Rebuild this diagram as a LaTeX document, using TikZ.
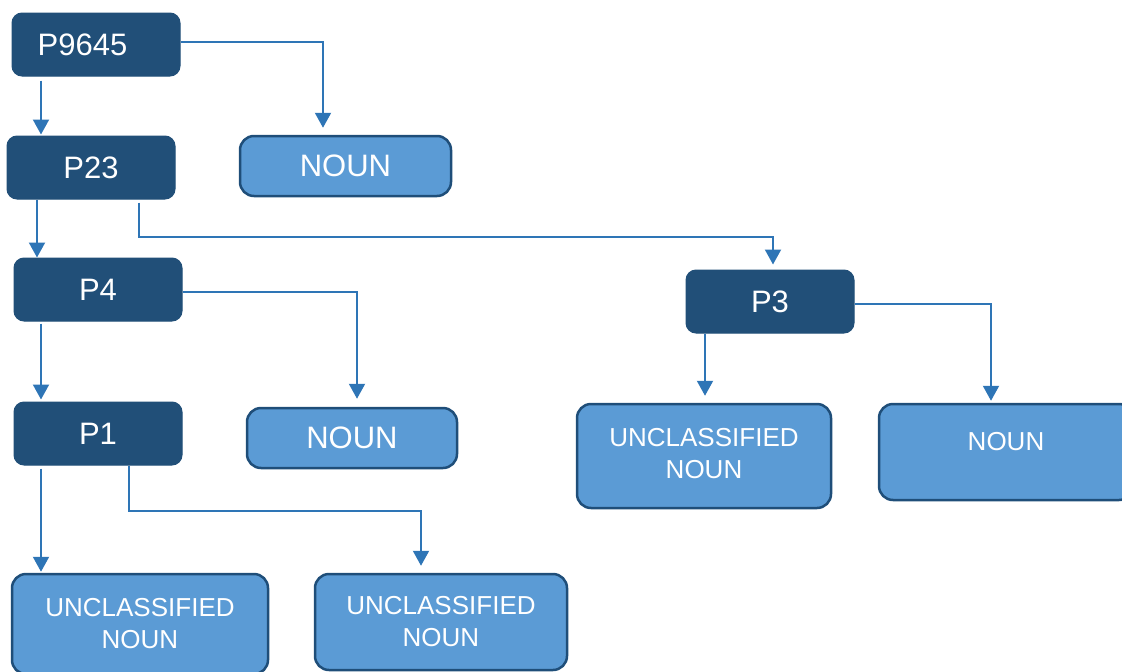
\documentclass[tikz,border=0pt]{standalone}
\usepackage{fontspec}
\setmainfont{Liberation Sans}
\usetikzlibrary{arrows.meta}
\definecolor{darkbox}{HTML}{214F78}
\definecolor{lightbox}{HTML}{5B9BD5}
\definecolor{boxline}{HTML}{1F4E79}
\definecolor{conncol}{HTML}{2E75B6}
\tikzset{
  darknode/.style={draw=darkbox, fill=darkbox, rounded corners=10pt, line width=1pt,
    minimum width=168pt, minimum height=63pt, inner sep=0pt, text=white,
    font=\fontsize{31}{36}\selectfont},
  lightnode/.style={draw=boxline, fill=lightbox, rounded corners=14pt, line width=2.5pt,
    inner sep=0pt, text=white, align=center},
  bigtext/.style={font=\fontsize{31}{36}\selectfont},
  smalltext/.style={font=\fontsize{26}{32}\selectfont},
  conn/.style={draw=conncol, line width=2pt, -{Triangle[width=16pt,length=15pt]}},
}
\begin{document}
\begin{tikzpicture}[x=1pt,y=1pt]
\useasboundingbox (0,0) rectangle (1122,-672);
\begin{scope}
\clip (0,0) rectangle (1122,-672);
% dark nodes
\node[darknode] (p9645) at (96,-44.5) {\hspace*{-27pt}P9645};
\node[darknode] (p23) at (91,-167.5) {P23};
\node[darknode] (p4) at (98,-289.5) {P4};
\node[darknode] (p1) at (98,-433.5) {P1};
\node[darknode] (p3) at (770,-301.5) {P3};
% light nodes
\node[lightnode, bigtext, minimum width=211pt, minimum height=60pt] (noun1) at (345.5,-166) {NOUN};
\node[lightnode, bigtext, minimum width=210pt, minimum height=60pt] (noun2) at (352,-438) {NOUN};
\node[lightnode, smalltext, minimum width=254pt, minimum height=104pt, text depth=6pt] (unc1) at (704,-456) {UNCLASSIFIED\\NOUN};
\node[lightnode, smalltext, minimum width=254pt, minimum height=96pt, text depth=22pt] (noun3) at (1006,-452) {NOUN};
\node[lightnode, smalltext, minimum width=256pt, minimum height=100pt] (unc2) at (140,-624) {UNCLASSIFIED\\NOUN};
\node[lightnode, smalltext, minimum width=252pt, minimum height=96pt] (unc3) at (441,-622) {UNCLASSIFIED\\NOUN};
% connectors
\draw[conn, shorten >=7pt] ([yshift=2.5pt]p9645.east) -| ([xshift=-22.5pt]noun1.north);
\draw[conn, shorten <=4pt, shorten >=1pt] ([xshift=-55pt]p9645.south) -- ([xshift=-50pt]p23.north);
\draw[conn, shorten >=0pt] ([xshift=-54pt]p23.south) -- ([xshift=-61pt]p4.north);
\draw[conn, shorten >=5pt] ([xshift=48pt,yshift=-3pt]p23.south) -- ++(0,-34) -| ([xshift=3pt]p3.north);
\draw[conn, shorten >=8pt] ([yshift=-2.5pt]p4.east) -| ([xshift=5pt]noun2.north);
\draw[conn, shorten <=2pt, shorten >=2pt] ([xshift=-57pt]p4.south) -- ([xshift=-57pt]p1.north);
\draw[conn, shorten <=3pt, shorten >=1pt] ([xshift=-57pt]p1.south) -- ([xshift=-99pt]unc2.north);
\draw[conn, shorten >=7pt] ([xshift=31pt]p1.south) -- ++(0,-45) -| ([xshift=-20pt]unc3.north);
\draw[conn, shorten >=7pt] ([xshift=-65pt]p3.south) -- ([xshift=1pt]unc1.north);
\draw[conn, shorten >=2pt] ([yshift=-2.5pt]p3.east) -| ([xshift=-15pt]noun3.north);
\end{scope}
\end{tikzpicture}
\end{document}
